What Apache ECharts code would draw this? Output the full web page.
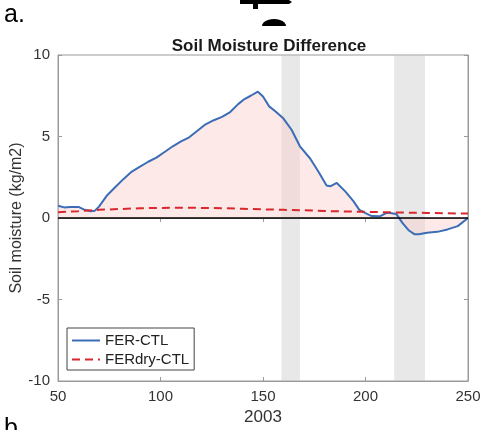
<!DOCTYPE html>
<html><head><meta charset="utf-8">
<script src="https://cdn.jsdelivr.net/npm/echarts@6/dist/echarts.min.js"></script>
<style>html,body{margin:0;padding:0;background:#fff}#c{width:484px;height:430px}</style>
</head><body><div id="c"></div>
<script>
// Data
const ferDays = [50,53,56,60,63,66,68,70,74,78,82,86,90,94,98,102,106,110,114,118,122,126,130,134,138,141,144,147.5,150,153,156,160,164,168,173,177,181,183,186,190,194,197,200,203,207,210,212,215,218,221,224,226,230,235,240,245,250];
const ferVals = [0.75,0.65,0.68,0.68,0.5,0.42,0.45,0.7,1.4,1.9,2.4,2.85,3.15,3.45,3.7,4.05,4.4,4.7,4.95,5.35,5.75,6.0,6.2,6.5,7.0,7.3,7.5,7.75,7.45,6.85,6.55,6.1,5.4,4.4,3.65,2.85,2.0,1.95,2.15,1.65,1.05,0.5,0.3,0.12,0.1,0.3,0.3,0.25,-0.3,-0.75,-1.0,-1.0,-0.9,-0.85,-0.7,-0.5,0.0];
const dryDays = [50,60,70,80,90,100,110,120,130,140,150,160,170,180,190,200,210,220,230,240,250];
const dryVals = [0.35,0.42,0.5,0.55,0.6,0.62,0.63,0.62,0.6,0.57,0.53,0.5,0.47,0.43,0.4,0.38,0.35,0.33,0.31,0.29,0.27];
const bands = [[159,168],[214,229]];
const xTicks = [50,100,150,200,250];
const yTicks = [-10,-5,0,5,10];

const font = 'Liberation Sans, Arial, sans-serif';
const axisGrey = '#9a9a9a';
const chart = echarts.init(document.getElementById('c'));
const pair = (xs, ys) => xs.map((x,i)=>[x, ys[i]]);
const arcPts = [];
for (let i=0;i<=12;i++){ const t=Math.PI*i/12; arcPts.push([274-12*Math.cos(t), 26-7*Math.sin(t)]); }
chart.setOption({
  animation:false,
  textStyle:{fontFamily:font},
  title:{text:'Soil Moisture Difference', left:264, top:33, textAlign:'center',
    textStyle:{fontSize:17, fontWeight:'bold', color:'#1a1a1a', fontFamily:font}},
  grid:{left:58, right:16, top:55, bottom:49, show:true, borderColor:axisGrey, borderWidth:1,
    containLabel:false, outerBoundsMode:'none'},
  legend:{left:67, top:328, orient:'vertical', padding:[5,5,3,4], itemGap:4, itemWidth:28, itemHeight:14,
    borderColor:'#444', borderWidth:1, backgroundColor:'#fff',
    itemStyle:{opacity:0},
    textStyle:{fontSize:15, color:'#222', fontFamily:font},
    data:['FER-CTL','FERdry-CTL']},
  xAxis:[{type:'value', min:xTicks[0], max:xTicks[xTicks.length-1], interval:50,
    name:'2003', nameLocation:'middle', nameGap:27, nameTextStyle:{fontSize:17,color:'#333'},
    axisLine:{show:true,onZero:false,lineStyle:{color:axisGrey}}, axisTick:{inside:true,length:4,lineStyle:{color:axisGrey}},
    axisLabel:{fontSize:15,color:'#333',margin:8}, splitLine:{show:false}},
    {type:'value', position:'top', min:50, max:250, interval:50,
    axisLine:{show:true,lineStyle:{color:axisGrey}}, axisTick:{inside:true,length:4,lineStyle:{color:axisGrey}},
    axisLabel:{show:false}, splitLine:{show:false}}],
  yAxis:[{type:'value', min:yTicks[0], max:yTicks[yTicks.length-1], interval:5,
    name:'Soil moisture (kg/m2)', nameLocation:'middle', nameGap:33, nameMoveOverlap:false,
    nameTextStyle:{fontSize:16,color:'#333'},
    axisLine:{show:true,onZero:false,lineStyle:{color:axisGrey}}, axisTick:{inside:true,length:4,lineStyle:{color:axisGrey}},
    axisLabel:{fontSize:15,color:'#333',margin:8}, splitLine:{show:false}},
    {type:'value', position:'right', min:-10, max:10, interval:5,
    axisLine:{show:true,lineStyle:{color:axisGrey}}, axisTick:{inside:true,length:4,lineStyle:{color:axisGrey}},
    axisLabel:{show:false}, splitLine:{show:false}}],
  series:[
    {name:'bands', type:'line', data:[], silent:true, z:1,
      markArea:{silent:true, itemStyle:{color:'rgba(195,195,195,0.38)'},
        data:bands.map(b=>[{xAxis:b[0]},{xAxis:b[1]}])}},
    {name:'FER-CTL', type:'line', data:pair(ferDays, ferVals), symbol:'none', smooth:false, z:3,
      lineStyle:{color:'#3a6db5', width:2}, itemStyle:{color:'#3a6db5'},
      areaStyle:{color:'rgba(252,205,205,0.62)', origin:0},
      markLine:{silent:true, symbol:'none', label:{show:false},
        lineStyle:{color:'#000', width:1.5, type:'solid'}, data:[{yAxis:0}]}},
    {name:'FERdry-CTL', type:'line', data:pair(dryDays, dryVals), symbol:'none', z:4,
      lineStyle:{color:'#d9272e', width:2, type:[8,5]}, itemStyle:{color:'#d9272e'}}
  ],
  graphic:[
    {type:'text', left:4, top:3, style:{text:'a.', fontSize:25, fill:'#000', fontFamily:font}},
    {type:'text', left:4, top:417, style:{text:'b.', fontSize:25, fill:'#000', fontFamily:font}},
    {type:'polygon', shape:{points:[[240,0],[289,0],[292,2],[289,4],[240,4]]}, style:{fill:'#000'}},
    {type:'rect', shape:{x:253, y:0, width:5, height:9}, style:{fill:'#000'}},
    {type:'polygon', shape:{points:arcPts}, style:{fill:'#000'}}
  ]
});
</script></body></html>
